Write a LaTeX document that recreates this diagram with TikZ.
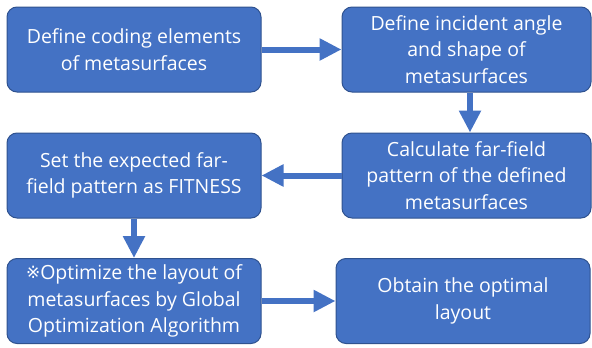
\documentclass[tikz,border=0pt]{standalone}
\usepackage{fontspec}
\setmainfont{Open Sans}
\usetikzlibrary{arrows.meta}
\definecolor{boxblue}{RGB}{68,114,196}
\definecolor{boxedge}{RGB}{47,82,143}
\begin{document}
\begin{tikzpicture}[x=1pt,y=-1pt,
        stepbox/.style={draw=boxedge, line width=1pt, fill=boxblue, rounded corners=10pt,
            text=white, align=center, inner sep=0pt, minimum height=85pt,
            font=\fontsize{19.5}{26.5}\selectfont},
        flow/.style={draw=boxblue, line width=6pt, -{Triangle[width=21pt,length=22pt]}}]
        \useasboundingbox (0, 0) rectangle (592, 348);

        \node[stepbox, minimum width=254pt] (define) at (134, 49.5) {Define coding elements\\of metasurfaces};
        \node[stepbox, minimum width=249pt] (angle) at (466.5, 49.5) {Define incident angle\\and shape of\\metasurfaces};
        \node[stepbox, minimum width=254pt] (fitness) at (134, 175.5) {Set the expected far-\\field pattern as FITNESS};
        \node[stepbox, minimum width=249pt] (farfield) at (466.5, 175.5) {Calculate far-field\\pattern of the defined\\metasurfaces};
        \node[stepbox, minimum width=254pt] (optimize) at (134, 301) {\raisebox{1pt}{\fontspec{DejaVu Sans}\fontsize{17}{26.5}\selectfont ※}\fontspec{Open Sans}\fontsize{19.5}{26.5}\selectfont Optimize the layout of\\metasurfaces by Global\\Optimization Algorithm};
        \node[stepbox, minimum width=254pt] (layout) at (463, 301) {Obtain the optimal\\layout};

        \draw[flow] (define) -- (angle);
        \draw[flow] ([xshift=3.5pt]angle.south) -- ([xshift=3.5pt]farfield.north);
        \draw[flow] (farfield) -- (fitness);
        \draw[flow] (fitness) -- (optimize);
        \draw[flow] (optimize) -- (layout);
\end{tikzpicture}
\end{document}
